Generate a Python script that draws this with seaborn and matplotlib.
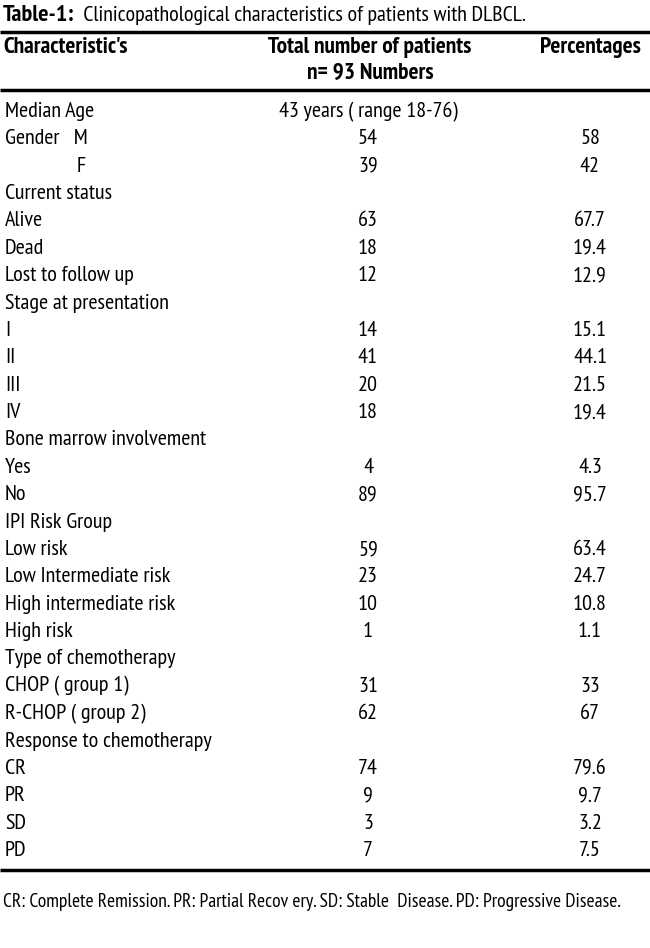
import matplotlib
matplotlib.use("Agg")
import matplotlib.pyplot as plt
import seaborn as sns

sns.set_theme(style="white")
plt.rcParams['font.family'] = ['PT Sans Narrow', 'DejaVu Sans']
plt.rcParams['text.color'] = 'black'

title_bold = "Table-1:"
title_rest = "  Clinicopathological characteristics of patients with DLBCL."
header_col1 = "Characteristic's"
header_col2 = ["Total number of patients", "n= 93 Numbers"]
header_col3 = "Percentages"

labels = ["Median Age", "Gender   M", "F", "Current status", "Alive", "Dead",
          "Lost to follow up", "Stage at presentation", "I", "II", "III", "IV",
          "Bone marrow involvement", "Yes", "No", "IPI Risk Group", "Low risk",
          "Low Intermediate risk", "High intermediate risk", "High risk",
          "Type of chemotherapy", "CHOP ( group 1)", "R-CHOP ( group 2)",
          "Response to chemotherapy", "CR", "PR", "SD", "PD"]
counts = ["43 years ( range 18-76)", "54", "39", "", "63", "18", "12", "",
          "14", "41", "20", "18", "", "4", "89", "", "59", "23", "10", "1", "",
          "31", "62", "", "74", "9", "3", "7"]
percents = ["", "58", "42", "", "67.7", "19.4", "12.9", "", "15.1", "44.1",
            "21.5", "19.4", "", "4.3", "95.7", "", "63.4", "24.7", "10.8", "1.1",
            "", "33", "67", "", "79.6", "9.7", "3.2", "7.5"]
footnote = "CR: Complete Remission. PR: Partial Recov ery. SD: Stable  Disease. PD: Progressive Disease."

W, H = 650, 948
fig = plt.figure(figsize=(W / 100, H / 100), dpi=100)
ax = fig.add_axes([0, 0, 1, 1])
ax.set_xlim(0, W)
ax.set_ylim(H, 0)
ax.axis("off")

fs = 15.9
fs_bold = 16.8
x_label, x_count, x_pct = 5, 368, 590

t1 = ax.text(3, 15, title_bold, fontsize=17.5, fontweight="bold", va="center", ha="left")
ax.annotate(title_rest, xy=(1, 0.5), xycoords=t1, va="center", ha="left", fontsize=15.8)

ax.plot([0, W], [32, 32], color="black", lw=2.5, solid_capstyle="butt")
ax.text(3, 47, header_col1, fontsize=fs_bold, fontweight="bold", va="center")
ax.text(x_count + 2, 47, header_col2[0], fontsize=fs_bold, fontweight="bold", va="center", ha="center")
ax.text(x_count + 2, 73, header_col2[1], fontsize=fs_bold, fontweight="bold", va="center", ha="center")
ax.text(x_pct, 47, header_col3, fontsize=fs_bold, fontweight="bold", va="center", ha="center")
ax.plot([0, W], [90, 90], color="black", lw=2.5, solid_capstyle="butt")

y0, dy = 111.5, 27.37
for i, (lab, c, p) in enumerate(zip(labels, counts, percents)):
    y = y0 + i * dy
    xl = 77 if lab == "F" else x_label
    ax.text(xl, y, lab, fontsize=fs, va="center", ha="left")
    if c:
        ax.text(x_count, y, c, fontsize=fs, va="center", ha="center")
    if p:
        ax.text(x_pct, y, p, fontsize=fs, va="center", ha="center")

ax.plot([0, W], [870, 870], color="black", lw=2.5, solid_capstyle="butt")
ax.text(3, 902, footnote, fontsize=14, va="center", ha="left")

fig.savefig("out.png", dpi=100, facecolor="white")
